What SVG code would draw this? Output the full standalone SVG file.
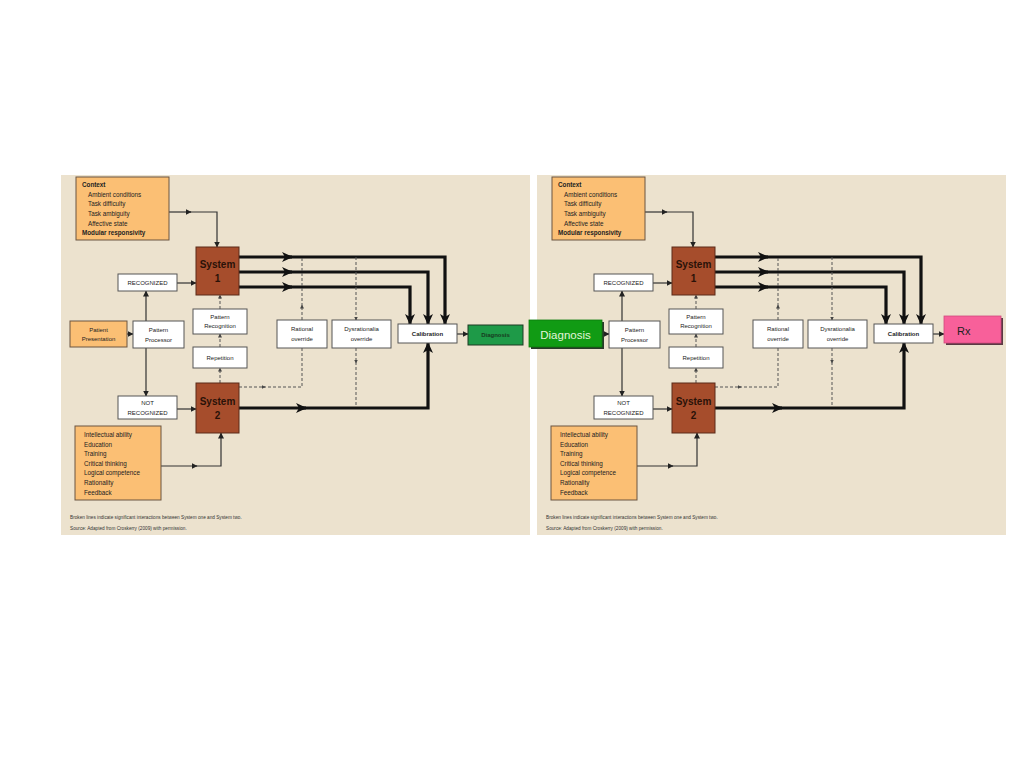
<svg xmlns="http://www.w3.org/2000/svg" width="1024" height="768" viewBox="0 0 1024 768">
<defs>
<style>
text{font-family:"Liberation Sans",Arial,sans-serif;fill:#222}
.panel{fill:#ECE2CE}
.ora{fill:#FBBF74;stroke:#6b5540;stroke-width:1}
.wb{fill:#fff;stroke:#555;stroke-width:1}
.sys{fill:#A64D2C;stroke:#5a2a18;stroke-width:1}
.dg{fill:#1E9A48;stroke:#1d3a22;stroke-width:1}
.t{font-size:6px;text-anchor:middle}
.tl{font-size:6.3px}
.tb{font-size:6.3px;font-weight:bold}
.st{font-size:10px;font-weight:bold;text-anchor:middle;fill:#2a1208}
.ft{font-size:4.7px;fill:#333}
.thin{fill:none;stroke:#333;stroke-width:1.2}
.thick{fill:none;stroke:#111;stroke-width:3.2}
.dash{fill:none;stroke:#555;stroke-width:1;stroke-dasharray:3,2}
</style>
<marker id="ah" markerUnits="userSpaceOnUse" markerWidth="6" markerHeight="6" refX="5.5" refY="3" orient="auto"><path d="M0,0 L6,3 L0,6 z" fill="#222"/></marker>
<marker id="ahs" markerUnits="userSpaceOnUse" markerWidth="4" markerHeight="4" refX="3.5" refY="2" orient="auto"><path d="M0,0 L4,2 L0,4 z" fill="#444"/></marker>
<marker id="aht" markerUnits="userSpaceOnUse" markerWidth="11" markerHeight="10" refX="10" refY="5" orient="auto"><path d="M0,0 L11,5 L0,10 L3,5 z" fill="#111"/></marker>
</defs>
<rect x="0" y="0" width="1024" height="768" fill="#fff"/>

<!-- LEFT PANEL -->
<g id="left-panel">
<rect class="panel" x="61" y="175" width="469" height="360"/>
<g id="l-connectors">
<path class="thin" d="M169,212 H191" marker-end="url(#ah)"/>
<path class="thin" d="M189,212 H217 V247" marker-end="url(#ah)"/>
<path class="thin" d="M177,283 H196" marker-end="url(#ah)"/>
<path class="thin" d="M146,321 V291" marker-end="url(#ah)"/>
<path class="thin" d="M146,348 V396" marker-end="url(#ah)"/>
<path class="thin" d="M177,409 H196" marker-end="url(#ah)"/>
<path class="thin" d="M127,334 H133" marker-end="url(#ah)"/>
<path class="thin" d="M161,466 H197" marker-end="url(#ah)"/>
<path class="thin" d="M195,466 H221 V433" marker-end="url(#ah)"/>
<path class="thin" d="M457,334 H468" marker-end="url(#ah)"/>
<path class="thick" d="M239,257 H292" marker-end="url(#aht)"/>
<path class="thick" d="M288,257 H445 V324" marker-end="url(#aht)"/>
<path class="thick" d="M239,272 H292" marker-end="url(#aht)"/>
<path class="thick" d="M288,272 H428 V324" marker-end="url(#aht)"/>
<path class="thick" d="M239,287 H292" marker-end="url(#aht)"/>
<path class="thick" d="M288,287 H410 V324" marker-end="url(#aht)"/>
<path class="thick" d="M239,408 H306" marker-end="url(#aht)"/>
<path class="thick" d="M302,408 H428 V343" marker-end="url(#aht)"/>
<path class="dash" d="M239,387 H265" marker-end="url(#ahs)"/>
<path class="dash" d="M263,387 H302 V348"/>
<path class="dash" d="M302,320 V305" marker-end="url(#ahs)"/>
<path class="dash" d="M302,306 V257"/>
<path class="dash" d="M356,257 V320" marker-end="url(#ahs)"/>
<path class="dash" d="M356,348 V363" marker-end="url(#ahs)"/>
<path class="dash" d="M356,362 V406"/>
<path class="dash" d="M220,383 V368" marker-end="url(#ahs)"/>
<path class="dash" d="M220,347 V334" marker-end="url(#ahs)"/>
<path class="dash" d="M220,309 V295" marker-end="url(#ahs)"/>
</g>
<g id="l-context"><rect class="ora" x="76" y="177" width="93" height="63"/>
<text class="tb" x="82" y="187">Context</text>
<text class="tl" x="88" y="196.5">Ambient conditions</text>
<text class="tl" x="88" y="206">Task difficulty</text>
<text class="tl" x="88" y="215.5">Task ambiguity</text>
<text class="tl" x="88" y="225.5">Affective state</text>
<text class="tb" x="82" y="235">Modular responsivity</text></g>
<g id="l-system1"><rect class="sys" x="196" y="247" width="43" height="48"/>
<text class="st" x="217.5" y="268">System</text><text class="st" x="217.5" y="282">1</text></g>
<g id="l-recognized"><rect class="wb" x="118" y="274" width="59" height="17"/><text class="t" x="147.5" y="284.5">RECOGNIZED</text></g>
<g id="l-patrec"><rect class="wb" x="193" y="309" width="54" height="25"/><text class="t" x="220" y="319">Pattern</text><text class="t" x="220" y="328">Recognition</text></g>
<g id="l-patient"><rect class="ora" x="70" y="321" width="57" height="26"/><text class="t" x="98.5" y="332">Patient</text><text class="t" x="98.5" y="341">Presentation</text></g>
<g id="l-patproc"><rect class="wb" x="133" y="321" width="51" height="27"/><text class="t" x="158.5" y="332">Pattern</text><text class="t" x="158.5" y="341.5">Processor</text></g>
<g id="l-repetition"><rect class="wb" x="193" y="347" width="54" height="21"/><text class="t" x="220" y="359.5">Repetition</text></g>
<g id="l-rational"><rect class="wb" x="277" y="320" width="50" height="28"/><text class="t" x="302" y="331">Rational</text><text class="t" x="302" y="341">override</text></g>
<g id="l-dysrational"><rect class="wb" x="332" y="320" width="59" height="28"/><text class="t" x="361.5" y="331">Dysrationalia</text><text class="t" x="361.5" y="341">override</text></g>
<g id="l-calibration"><rect class="wb" x="398" y="324" width="59" height="19"/><text class="t" x="427.5" y="336" font-weight="bold">Calibration</text></g>
<g id="l-diagnosis"><rect class="dg" x="468" y="325" width="55" height="20"/><text class="t" x="495.5" y="337" font-weight="bold" style="fill:#173a1e">Diagnosis</text></g>
<g id="l-notrec"><rect class="wb" x="118" y="396" width="59" height="23"/><text class="t" x="147.5" y="405">NOT</text><text class="t" x="147.5" y="414.5">RECOGNIZED</text></g>
<g id="l-system2"><rect class="sys" x="196" y="383" width="43" height="50"/>
<text class="st" x="217.5" y="405">System</text><text class="st" x="217.5" y="419">2</text></g>
<g id="l-abilities"><rect class="ora" x="75" y="426" width="86" height="74"/>
<text class="tl" x="84" y="437">Intellectual ability</text>
<text class="tl" x="84" y="446.5">Education</text>
<text class="tl" x="84" y="456">Training</text>
<text class="tl" x="84" y="465.5">Critical thinking</text>
<text class="tl" x="84" y="475">Logical competence</text>
<text class="tl" x="84" y="485">Rationality</text>
<text class="tl" x="84" y="494.5">Feedback</text></g>
<text class="ft" x="70" y="519">Broken lines indicate significant interactions between System one and System two.</text>
<text class="ft" x="70" y="530">Source: Adapted from Croskerry (2009) with permission.</text>
</g>

<!-- RIGHT PANEL -->
<g id="right-panel" transform="translate(476,0)">
<rect class="panel" x="61" y="175" width="469" height="360"/>
<g id="r-connectors">
<path class="thin" d="M169,212 H191" marker-end="url(#ah)"/>
<path class="thin" d="M189,212 H217 V247" marker-end="url(#ah)"/>
<path class="thin" d="M177,283 H196" marker-end="url(#ah)"/>
<path class="thin" d="M146,321 V291" marker-end="url(#ah)"/>
<path class="thin" d="M146,348 V396" marker-end="url(#ah)"/>
<path class="thin" d="M177,409 H196" marker-end="url(#ah)"/>
<path class="thin" d="M127,334 H133" marker-end="url(#ah)"/>
<path class="thin" d="M161,466 H197" marker-end="url(#ah)"/>
<path class="thin" d="M195,466 H221 V433" marker-end="url(#ah)"/>
<path class="thin" d="M457,334 H468" marker-end="url(#ah)"/>
<path class="thick" d="M239,257 H292" marker-end="url(#aht)"/>
<path class="thick" d="M288,257 H445 V324" marker-end="url(#aht)"/>
<path class="thick" d="M239,272 H292" marker-end="url(#aht)"/>
<path class="thick" d="M288,272 H428 V324" marker-end="url(#aht)"/>
<path class="thick" d="M239,287 H292" marker-end="url(#aht)"/>
<path class="thick" d="M288,287 H410 V324" marker-end="url(#aht)"/>
<path class="thick" d="M239,408 H306" marker-end="url(#aht)"/>
<path class="thick" d="M302,408 H428 V343" marker-end="url(#aht)"/>
<path class="dash" d="M239,387 H265" marker-end="url(#ahs)"/>
<path class="dash" d="M263,387 H302 V348"/>
<path class="dash" d="M302,320 V305" marker-end="url(#ahs)"/>
<path class="dash" d="M302,306 V257"/>
<path class="dash" d="M356,257 V320" marker-end="url(#ahs)"/>
<path class="dash" d="M356,348 V363" marker-end="url(#ahs)"/>
<path class="dash" d="M356,362 V406"/>
<path class="dash" d="M220,383 V368" marker-end="url(#ahs)"/>
<path class="dash" d="M220,347 V334" marker-end="url(#ahs)"/>
<path class="dash" d="M220,309 V295" marker-end="url(#ahs)"/>
</g>
<g id="r-context"><rect class="ora" x="76" y="177" width="93" height="63"/>
<text class="tb" x="82" y="187">Context</text>
<text class="tl" x="88" y="196.5">Ambient conditions</text>
<text class="tl" x="88" y="206">Task difficulty</text>
<text class="tl" x="88" y="215.5">Task ambiguity</text>
<text class="tl" x="88" y="225.5">Affective state</text>
<text class="tb" x="82" y="235">Modular responsivity</text></g>
<g id="r-system1"><rect class="sys" x="196" y="247" width="43" height="48"/>
<text class="st" x="217.5" y="268">System</text><text class="st" x="217.5" y="282">1</text></g>
<g id="r-recognized"><rect class="wb" x="118" y="274" width="59" height="17"/><text class="t" x="147.5" y="284.5">RECOGNIZED</text></g>
<g id="r-patrec"><rect class="wb" x="193" y="309" width="54" height="25"/><text class="t" x="220" y="319">Pattern</text><text class="t" x="220" y="328">Recognition</text></g>
<g id="r-patproc"><rect class="wb" x="133" y="321" width="51" height="27"/><text class="t" x="158.5" y="332">Pattern</text><text class="t" x="158.5" y="341.5">Processor</text></g>
<g id="r-repetition"><rect class="wb" x="193" y="347" width="54" height="21"/><text class="t" x="220" y="359.5">Repetition</text></g>
<g id="r-rational"><rect class="wb" x="277" y="320" width="50" height="28"/><text class="t" x="302" y="331">Rational</text><text class="t" x="302" y="341">override</text></g>
<g id="r-dysrational"><rect class="wb" x="332" y="320" width="59" height="28"/><text class="t" x="361.5" y="331">Dysrationalia</text><text class="t" x="361.5" y="341">override</text></g>
<g id="r-calibration"><rect class="wb" x="398" y="324" width="59" height="19"/><text class="t" x="427.5" y="336" font-weight="bold">Calibration</text></g>
<g id="r-notrec"><rect class="wb" x="118" y="396" width="59" height="23"/><text class="t" x="147.5" y="405">NOT</text><text class="t" x="147.5" y="414.5">RECOGNIZED</text></g>
<g id="r-system2"><rect class="sys" x="196" y="383" width="43" height="50"/>
<text class="st" x="217.5" y="405">System</text><text class="st" x="217.5" y="419">2</text></g>
<g id="r-abilities"><rect class="ora" x="75" y="426" width="86" height="74"/>
<text class="tl" x="84" y="437">Intellectual ability</text>
<text class="tl" x="84" y="446.5">Education</text>
<text class="tl" x="84" y="456">Training</text>
<text class="tl" x="84" y="465.5">Critical thinking</text>
<text class="tl" x="84" y="475">Logical competence</text>
<text class="tl" x="84" y="485">Rationality</text>
<text class="tl" x="84" y="494.5">Feedback</text></g>
<text class="ft" x="70" y="519">Broken lines indicate significant interactions between System one and System two.</text>
<text class="ft" x="70" y="530">Source: Adapted from Croskerry (2009) with permission.</text>
</g>

<!-- OVERLAY NODES -->
<g id="diagnosis-overlay">
<rect x="531" y="322" width="73" height="27" fill="#2a3a2a"/>
<rect x="529" y="320" width="73" height="27" fill="#119B14" stroke="#0a7a0c" stroke-width="0.8"/>
<text x="565.5" y="339" font-size="11.5" text-anchor="middle" style="fill:#e2f5da">Diagnosis</text>
</g>
<g id="rx-overlay">
<rect x="946" y="318" width="57" height="27" fill="#5a3a44"/>
<rect x="944" y="316" width="57" height="27" fill="#F8609A" stroke="#d04a7e" stroke-width="0.8"/>
<text x="957" y="335" font-size="11" style="fill:#222">Rx</text>
</g>
</svg>
